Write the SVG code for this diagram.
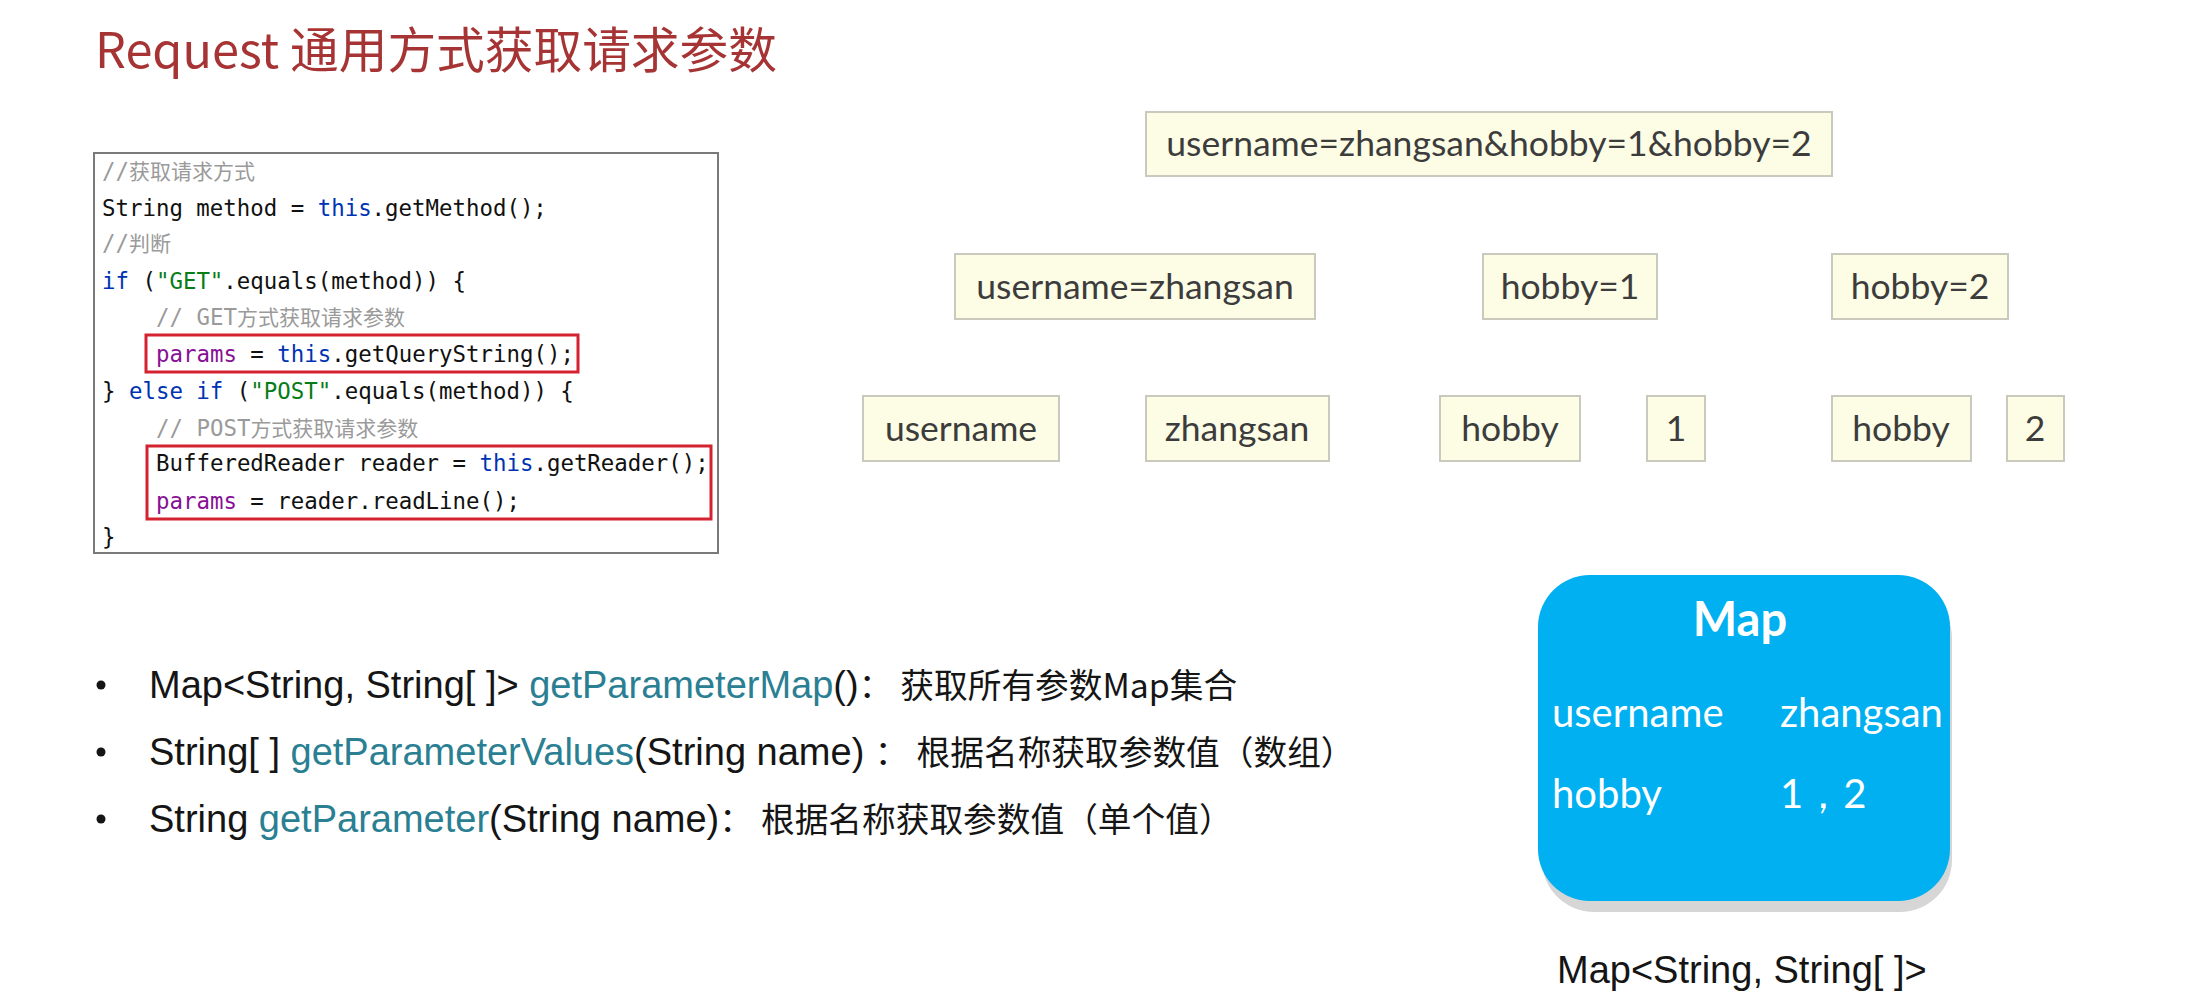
<svg xmlns="http://www.w3.org/2000/svg" width="2200" height="1008" viewBox="0 0 2200 1008">
<style>
.title{font-family:"Noto Sans CJK SC","Liberation Sans",sans-serif;font-size:48.7px;fill:#A63434}
.code{font-family:"DejaVu Sans Mono","Liberation Mono","Noto Sans CJK SC",monospace;font-size:22.4px;fill:#111}
.kw{fill:#0033B3}
.str{fill:#067D17}
.fld{fill:#871094}
.cm{fill:#9A9A9A}
.cmz{font-family:"Noto Sans CJK SC",sans-serif;font-size:21px;fill:#9A9A9A}
.redbox{fill:none;stroke:#D42230;stroke-width:3}
.yb rect{fill:#FDFDE6;stroke:#C9C9BE;stroke-width:2}
.yb text{font-family:Lato,"Open Sans",sans-serif;font-size:35.5px;fill:#3C3C3C;text-anchor:middle}
.bl{font-family:"Liberation Sans",Arial,"Noto Sans CJK SC",sans-serif;font-size:38px;fill:#151515}
.fn{fill:#2B7F93}
.zh{font-family:"Noto Sans CJK SC",sans-serif;font-size:33.7px}
.mp{font-family:Lato,"Open Sans",sans-serif;fill:#FFFFFF}
</style>

<text class="title" x="95" y="68">Request 通用方式获取请求参数</text>

<g id="code-block">
<rect x="94" y="153" width="624" height="400" fill="#FFFFFF" stroke="#7A7A7A" stroke-width="2"/>
<text class="code cm" x="102" y="179">//<tspan class="cmz">获取请求方式</tspan></text>
<text class="code" x="102" y="216">String method = <tspan class="kw">this</tspan>.getMethod();</text>
<text class="code cm" x="102" y="251">//<tspan class="cmz">判断</tspan></text>
<text class="code" x="102" y="289"><tspan class="kw">if</tspan> (<tspan class="str">"GET"</tspan>.equals(method)) {</text>
<text class="code cm" x="156" y="325">// GET<tspan class="cmz">方式获取请求参数</tspan></text>
<text class="code" x="156" y="362"><tspan class="fld">params</tspan> = <tspan class="kw">this</tspan>.getQueryString();</text>
<text class="code" x="102" y="399">} <tspan class="kw">else if</tspan> (<tspan class="str">"POST"</tspan>.equals(method)) {</text>
<text class="code cm" x="156" y="436">// POST<tspan class="cmz">方式获取请求参数</tspan></text>
<text class="code" x="156" y="471">BufferedReader reader = <tspan class="kw">this</tspan>.getReader();</text>
<text class="code" x="156" y="509"><tspan class="fld">params</tspan> = reader.readLine();</text>
<text class="code" x="102" y="545">}</text>
<rect class="redbox" x="146" y="335" width="432" height="37"/>
<rect class="redbox" x="147" y="446" width="564" height="73"/>
</g>

<g id="query-string" class="yb"><rect x="1146" y="112" width="686" height="64"/><text x="1489" y="156">username=zhangsan&amp;hobby=1&amp;hobby=2</text></g>

<g id="pair-username" class="yb"><rect x="955" y="254" width="360" height="65"/><text x="1135" y="299">username=zhangsan</text></g>
<g id="pair-hobby1" class="yb"><rect x="1483" y="254" width="174" height="65"/><text x="1570" y="299">hobby=1</text></g>
<g id="pair-hobby2" class="yb"><rect x="1832" y="254" width="176" height="65"/><text x="1920" y="299">hobby=2</text></g>

<g id="key-username" class="yb"><rect x="863" y="396" width="196" height="65"/><text x="961" y="441">username</text></g>
<g id="val-zhangsan" class="yb"><rect x="1146" y="396" width="183" height="65"/><text x="1237" y="441">zhangsan</text></g>
<g id="key-hobby1" class="yb"><rect x="1440" y="396" width="140" height="65"/><text x="1510" y="441">hobby</text></g>
<g id="val-1" class="yb"><rect x="1647" y="396" width="58" height="65"/><text x="1676" y="441">1</text></g>
<g id="key-hobby2" class="yb"><rect x="1832" y="396" width="139" height="65"/><text x="1901" y="441">hobby</text></g>
<g id="val-2" class="yb"><rect x="2007" y="396" width="57" height="65"/><text x="2035" y="441">2</text></g>

<g id="map-box">
<rect x="1542" y="586" width="410" height="326" rx="52" fill="#D6D6D6"/>
<rect x="1538" y="575" width="412" height="326" rx="52" fill="#00B0F0"/>
<text class="mp" x="1740" y="636" font-size="47" font-weight="bold" text-anchor="middle">Map</text>
<text class="mp" x="1552" y="727" font-size="40">username</text>
<text class="mp" x="1780" y="727" font-size="40">zhangsan</text>
<text class="mp" x="1552" y="808" font-size="40">hobby</text>
<text class="mp" x="1780" y="808" font-size="40">1，2</text>
</g>

<text id="map-type" class="bl" x="1557" y="983" font-size="39.5">Map&lt;String, String[ ]&gt;</text>

<g id="bullets">
<circle cx="101" cy="685" r="4.5" fill="#151515"/>
<circle cx="101" cy="752" r="4.5" fill="#151515"/>
<circle cx="101" cy="819" r="4.5" fill="#151515"/>
<text class="bl" x="149" y="698">Map&lt;String, String[ ]&gt; <tspan class="fn">getParameterMap</tspan>()<tspan class="zh">：</tspan><tspan class="zh" dx="8">获取所有参数Map集合</tspan></text>
<text class="bl" x="149" y="765">String[ ] <tspan class="fn">getParameterValues</tspan>(String name) <tspan class="zh">：</tspan><tspan class="zh" dx="8">根据名称获取参数值（数组）</tspan></text>
<text class="bl" x="149" y="832">String <tspan class="fn">getParameter</tspan>(String name)<tspan class="zh">：</tspan><tspan class="zh" dx="8">根据名称获取参数值（单个值）</tspan></text>
</g>
</svg>
